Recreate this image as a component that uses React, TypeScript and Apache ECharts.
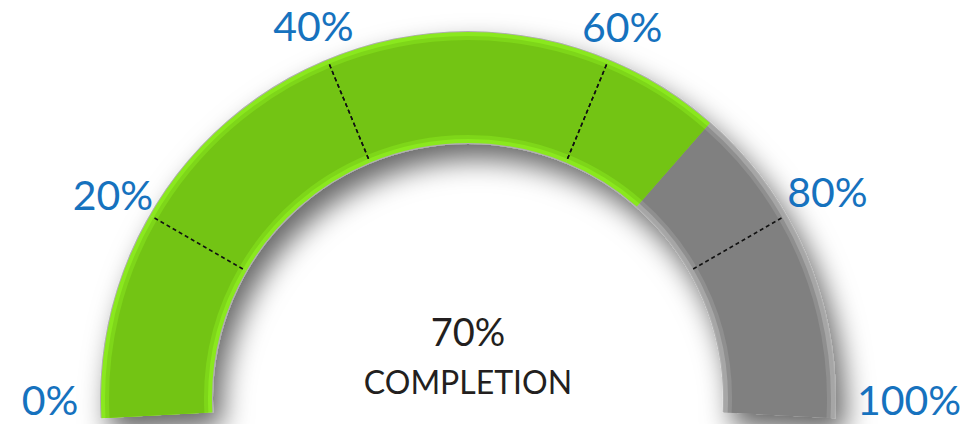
import React, { useEffect, useRef } from "react";
import * as echarts from "echarts";

// ---- data ----
const COMPLETION = 70;
const TICKS = [0, 20, 40, 60, 80, 100];
const TICK_LABELS = ["0%", "20%", "40%", "60%", "80%", "100%"];
const TICK_ANGLES = [180, 150, 112.5, 67.5, 30, 0];
const CENTER_LABEL = "COMPLETION";

// ---- style ----
const GREEN_RIM = "#8ae81e";
const GREEN_MID = "#7ed619";
const GREEN = "#73c414";
const GRAY_RIM = "#a6a6a6";
const GRAY_MID = "#8f8f8f";
const GRAY = "#808080";
const BLUE = "#1672be";
const FONT = "Lato, 'Open Sans', sans-serif";
const LABEL_SIZE = 41;

const CX = 468;
const CY = 399;
const R = 367;
const W = 111;
const OVERHANG = 3;
// distance of each label's centre from the gauge centre
const LABEL_R = [418, 410, 404, 403, 415, 441];

function stops(i: number, green: string, gray: string) {
  const lo = TICKS[i];
  const hi = TICKS[i + 1];
  const f = Math.max(0, Math.min(1, (COMPLETION - lo) / (hi - lo)));
  if (f <= 0) return [[1, gray]];
  if (f >= 1) return [[1, green]];
  return [
    [f, green],
    [1, gray],
  ];
}

const base: any = {
  type: "gauge",
  center: [CX, CY],
  silent: true,
  pointer: { show: false },
  progress: { show: false },
  anchor: { show: false },
  axisTick: { show: false },
  splitLine: { show: false },
  axisLabel: { show: false },
  title: { show: false },
  detail: { show: false },
  splitNumber: 1,
};

function segAngles(i: number) {
  return {
    startAngle: TICK_ANGLES[i] + (i === 0 ? OVERHANG : 0),
    endAngle: TICK_ANGLES[i + 1] - (i === TICKS.length - 2 ? OVERHANG : 0),
  };
}

let measureCtx: CanvasRenderingContext2D | null = null;
function textWidth(t: string) {
  if (!measureCtx) measureCtx = document.createElement("canvas").getContext("2d");
  if (!measureCtx) return t.length * LABEL_SIZE * 0.6;
  measureCtx.font = `${LABEL_SIZE}px ${FONT}`;
  return measureCtx.measureText(t).width;
}

// gauge labels are aligned by ECharts according to their direction; compute
// the anchor radius and padding that put the label text centred at radius rl.
function placement(angleDeg: number, rl: number, w: number, h: number) {
  const a = (angleDeg * Math.PI) / 180;
  const ux = Math.cos(a);
  const uy = -Math.sin(a);
  const hAlign = ux < -0.4 ? "left" : ux > 0.4 ? "right" : "center";
  const vAlign = uy < -0.8 ? "top" : uy > 0.8 ? "bottom" : "middle";
  let k = 0;
  if (hAlign === "left") k = Math.max(k, w / (2 * -ux));
  if (hAlign === "right") k = Math.max(k, w / (2 * ux));
  if (vAlign === "top") k = Math.max(k, h / (2 * -uy));
  if (vAlign === "bottom") k = Math.max(k, h / (2 * uy));
  const dx = -k * ux;
  const dy = -k * uy;
  let pl = 0,
    pr = 0,
    pt = 0,
    pb = 0;
  if (hAlign === "left") pl = dx - w / 2;
  else if (hAlign === "right") pr = -dx - w / 2;
  else if (dx > 0) pl = 2 * dx;
  else pr = -2 * dx;
  if (vAlign === "top") pt = dy - h / 2;
  else if (vAlign === "bottom") pb = -dy - h / 2;
  else if (dy > 0) pt = 2 * dy;
  else pb = -2 * dy;
  return { ra: rl + k, padding: [pt, pr, pb, pl].map((v) => Math.max(0, v)) };
}

function buildOption() {
  const series: any[] = [];
  // shadow + outline ring
  series.push({
    ...base,
    radius: R + 1,
    min: 0,
    max: 100,
    startAngle: 180 + OVERHANG,
    endAngle: -OVERHANG,
    axisLine: {
      lineStyle: {
        width: W + 2,
        color: [[1, "#b0b0b0"]],
        shadowColor: "rgba(0,0,0,0.6)",
        shadowBlur: 28,
        shadowOffsetX: 9,
        shadowOffsetY: 15,
      },
    },
    data: [{ value: COMPLETION }],
    detail: {
      show: true,
      offsetCenter: [0, -43],
      valueAnimation: false,
      formatter: (v: number) => `{a|${v}%}\n{b|${CENTER_LABEL}}`,
      rich: {
        a: { fontSize: 38, lineHeight: 50, color: "#231f20", fontFamily: FONT, fontWeight: "normal" },
        b: { fontSize: 32, lineHeight: 50, color: "#231f20", fontFamily: FONT, fontWeight: "normal" },
      },
    },
  });
  const layers = [
    { inset: 0, green: GREEN_RIM, gray: GRAY_RIM },
    { inset: 4, green: GREEN_MID, gray: GRAY_MID },
    { inset: 8, green: GREEN, gray: GRAY },
  ];
  layers.forEach((L) => {
    for (let i = 0; i < TICKS.length - 1; i++) {
      series.push({
        ...base,
        ...segAngles(i),
        radius: R - L.inset,
        min: TICKS[i],
        max: TICKS[i + 1],
        axisLine: {
          lineStyle: { width: W - 2 * L.inset, color: stops(i, L.green, L.gray) },
        },
        data: [],
      });
    }
  });
  // tick lines + labels: one series per tick label
  const splitLen = 103;
  const splitDist = R - W - 362;
  const anchorBase = R - splitLen - splitDist;
  for (let t = 0; t < TICKS.length; t++) {
    const seg = Math.min(t, TICKS.length - 2);
    const p = placement(TICK_ANGLES[t], LABEL_R[t], textWidth(TICK_LABELS[t]), LABEL_SIZE);
    series.push({
      ...base,
      radius: R,
      startAngle: TICK_ANGLES[seg],
      endAngle: TICK_ANGLES[seg + 1],
      min: TICKS[seg],
      max: TICKS[seg + 1],
      axisLine: { show: false, lineStyle: { width: W } },
      splitLine: {
        show: t > 0 && t < TICKS.length - 2,
        length: splitLen,
        distance: splitDist,
        lineStyle: { color: "#111", width: 1.5, type: [4, 3] },
      },
      axisLabel: {
        show: true,
        distance: anchorBase - p.ra,
        padding: p.padding,
        formatter: (v: number) => (v === TICKS[t] ? `{l|${TICK_LABELS[t]}}` : ""),
        rich: {
          l: {
            color: BLUE,
            fontSize: LABEL_SIZE,
            lineHeight: LABEL_SIZE,
            fontFamily: FONT,
          },
        },
      },
      data: [],
    });
  }
  return { animation: false, backgroundColor: "#ffffff", series };
}

export default function App() {
  const ref = useRef<HTMLDivElement>(null);
  useEffect(() => {
    if (!ref.current) return;
    const chart = echarts.init(ref.current, undefined, { renderer: "svg" });
    chart.setOption(buildOption());
    return () => chart.dispose();
  }, []);
  return (
    <div
      ref={ref}
      style={{ position: "absolute", left: 0, top: 0, width: 967, height: 424 }}
    />
  );
}
